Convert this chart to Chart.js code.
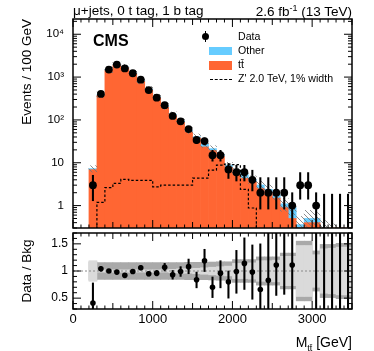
<!DOCTYPE html>
<html>
<head>
<meta charset="utf-8">
<script src="https://cdn.jsdelivr.net/npm/chart.js@4.4.0/dist/chart.umd.min.js"></script>
<style>
  body { margin: 0; background: #fff; font-family: 'Liberation Sans', Arial, sans-serif; }
  #wrap { position: relative; width: 374px; height: 351px; overflow: hidden; }
  canvas { position: absolute; left: 0; }
  #mainChart { top: 0; }
  #ratioChart { top: 228px; }
  .txt { position: absolute; white-space: nowrap; color: #000; line-height: 1; }
  .sym { position: absolute; }
</style>
</head>
<body>
<div id="wrap">
  <canvas id="mainChart" width="374" height="232"></canvas>
  <canvas id="ratioChart" width="374" height="123"></canvas>

  <div class="txt" style="left:73px; top:3.6px; font-size:13.5px;">μ+jets, 0 t tag, 1 b tag</div>
  <div class="txt" style="right:22px; top:3.6px; font-size:13.5px;">2.6 fb<sup style="font-size:9px; vertical-align:5px;">-1</sup> (13 TeV)</div>
  <div class="txt" style="left:93px; top:33px; font-size:16px; font-weight:bold;">CMS</div>

  <div class="sym" style="left:204.5px; top:30.7px; width:1px; height:11px; background:#000;"></div>
  <div class="sym" style="left:201.5px; top:32.8px; width:7px; height:7px; border-radius:50%; background:#000;"></div>
  <div class="txt" style="left:238px; top:31px; font-size:10.6px;">Data</div>
  <div class="sym" style="left:209px; top:46.7px; width:23px; height:8.6px; background:#66ccff;"></div>
  <div class="txt" style="left:238px; top:45px; font-size:10.6px;">Other</div>
  <div class="sym" style="left:209px; top:60.7px; width:23px; height:9.3px; background:#ff6633;"></div>
  <div class="txt" style="left:238px; top:59.3px; font-size:10.6px;">tt̄</div>
  <div class="sym" style="left:210px; top:78.5px; width:22px; height:0; border-top:1.2px dashed #000;"></div>
  <div class="txt" style="left:238px; top:72.7px; font-size:10.6px;">Z' 2.0 TeV, 1% width</div>

  <div class="txt" style="right:22px; top:335px; font-size:14px;">M<sub style="font-size:9px; vertical-align:-4px;">tt̄</sub> [GeV]</div>
</div>

<script>
// bins of 100 GeV
const binEdges = [200, 300, 400, 500, 600, 700, 800, 900, 1000, 1100, 1200, 1300, 1400, 1500, 1600, 1700, 1800,
  1900, 2000, 2100, 2200, 2300, 2400, 2500, 2600, 2700, 2800, 2900, 3000, 3100, 3200, 3300, 3400, 3500];

const dataCounts = [3, 405, 1500, 1960, 1590, 1230, 870, 497, 330, 221, 124, 93, 61, 34, 32, 15, 15,
  7, 6, 6, 4, 2, 2, 2, 2, 1, 3, 3, 1, 0, 0, 0, 0];
const dataErrLo = [1.3, 385, 1461, 1916, 1550, 1195, 840, 475, 312, 206, 113, 83, 53, 28, 26, 10.9, 10.9,
  4.3, 3.75, 3.75, 2.2, 0.83, 0.83, 0.83, 0.83, 0.1, 1.41, 1.41, 0.1, 0.1, 0.1, 0.1, 0.1];
const dataErrHi = [5.1, 425, 1539, 2004, 1630, 1265, 900, 519, 348, 236, 135, 103, 69, 40.5, 38, 19.5, 19.5,
  9.6, 8.7, 8.7, 6.7, 4.5, 4.5, 4.5, 4.5, 2.0, 5.9, 5.9, 2.0, 1.85, 1.85, 1.85, 1.85];

const ttbar = [6.9, 372, 1440, 1920, 1660, 1192, 787, 500, 328, 197, 126, 88, 53, 38, 23.5, 19.4, 14,
  7.8, 5.3, 4.3, 3.5, 2.5, 2.0, 1.5, 0.9, 0.5, 0.2, 0.4, 0.4, 0.2, 0.15, 0.1, 0.1];
const other = [0.4, 17, 60, 80, 68, 50, 33, 23, 16, 10, 7, 6, 3.5, 2.5, 3.4, 2, 1.6,
  0.95, 0.76, 0.96, 0.58, 0.53, 0.41, 0.3, 0.2, 0.4, 0.16, 0.1, 0.1, 0.1, 0.1, 0.1, 0.1];
const zprime = [0, 1.19, 2.64, 3.3, 4.1, 3.9, 3.9, 3.9, 2.75, 3.0, 3.0, 3.0, 3.0, 4.4, 4.4, 6.7, 8.8,
  9.3, 9.0, 2.4, 0.88, 0, 0, 0, 0, 0, 0, 0, 0, 0, 0, 0, 0];

// relative background uncertainty (total, and MC stat part)
const bkgUnc = [0.17, 0.155, 0.155, 0.155, 0.155, 0.155, 0.155, 0.155, 0.155, 0.155, 0.155, 0.155, 0.16, 0.16, 0.16, 0.165, 0.17,
  0.17, 0.21, 0.21, 0.21, 0.26, 0.26, 0.26, 0.33, 0.33, 0.55, 0.55, 0.37, 0.49, 0.49, 0.51, 0.51];
const bkgStatUnc = [0.19, 0.02, 0.02, 0.02, 0.02, 0.02, 0.02, 0.02, 0.02, 0.02, 0.03, 0.04, 0.04, 0.05, 0.06, 0.07, 0.08,
  0.09, 0.14, 0.14, 0.15, 0.19, 0.19, 0.2, 0.27, 0.27, 0.47, 0.47, 0.3, 0.41, 0.42, 0.44, 0.44];

const ratioVals = [0.41, 1.04, 1.0, 0.98, 0.92, 0.99, 1.06, 0.95, 0.96, 1.07, 0.93, 0.99, 1.08, 0.84, 1.19, 0.70, 0.96,
  0.80, 0.99, 1.14, 0.98, 0.66, 0.83, 1.11, null, 1.11, null, null, null, null, null, null, null];
const ratioErrLo = [0, 1.0, 0.97, 0.95, 0.89, 0.96, 1.02, 0.91, 0.91, 1.0, 0.85, 0.9, 0.95, 0.69, 0.99, 0.51, 0.69,
  0.5, 0.59, 0.66, 0.48, 0, 0, 0.55, 0.57, 0, null, null, 0, 0, 0, 0, 0];
const ratioErrHi = [0.78, 1.08, 1.03, 1.01, 0.95, 1.02, 1.1, 0.99, 1.01, 1.14, 1.01, 1.08, 1.22, 0.98, 1.4, 0.89, 1.19,
  1.0, 1.38, 1.61, 1.48, 1.5, 3, 3, 3, 3, null, null, 3, 3, 3, 3, 3];

const yTickValues = [1, 10, 100, 1000, 10000];
const yTickLabels = ['1', '10', '10²', '10³', '10⁴'];
const ratioTickValues = [0.5, 1, 1.5];
const ratioTickLabels = ['0.5', '1', '1.5'];
const xTickValues = [0, 1000, 2000, 3000];
const xTickLabels = ['0', '1000', '2000', '3000'];

Chart.defaults.font.family = "'Liberation Sans', Arial, sans-serif";
Chart.defaults.color = '#000';

const centers = binEdges.slice(0, -1).map((e, i) => (e + binEdges[i + 1]) / 2);
const bkgTotal = ttbar.map((v, i) => v + other[i]);
const logFloor = 1e-3;

// inward ROOT-like ticks and frame
const frameTicks = {
  id: 'frameTicks',
  afterDatasetsDraw(chart, args, opts) {
    const { ctx, chartArea: a, scales: { x, y } } = chart;
    ctx.save();
    ctx.strokeStyle = '#000';
    ctx.lineWidth = 1;
    ctx.beginPath();
    for (let v = 0; v <= 3500; v += 100) {
      const px = x.getPixelForValue(v);
      const len = v % 1000 === 0 ? 8 : (v % 500 === 0 ? 6 : 3.5);
      ctx.moveTo(px, a.bottom); ctx.lineTo(px, a.bottom - len);
      ctx.moveTo(px, a.top); ctx.lineTo(px, a.top + len);
    }
    const yt = [];
    if (opts.mode === 'log') {
      for (let e = -1; e <= 4; e++) {
        for (let m = 1; m <= 9; m++) {
          const v = m * Math.pow(10, e);
          if (v >= y.min && v <= y.max) yt.push([v, m === 1 ? 8 : 4]);
        }
      }
    } else {
      for (let k = 3; k <= 17; k++) yt.push([k / 10, k % 5 === 0 ? 8 : 4]);
    }
    for (const [v, len] of yt) {
      const py = y.getPixelForValue(v);
      ctx.moveTo(a.left, py); ctx.lineTo(a.left + len, py);
      ctx.moveTo(a.right, py); ctx.lineTo(a.right - len, py);
    }
    ctx.stroke();
    ctx.lineWidth = 1.5;
    ctx.strokeRect(a.left, a.top, a.right - a.left, a.bottom - a.top);
    ctx.restore();
  }
};

function makeHatch() {
  const c = document.createElement('canvas');
  c.width = 5; c.height = 5;
  const g = c.getContext('2d');
  g.strokeStyle = 'rgba(120,120,120,0.85)';
  g.lineWidth = 1;
  g.beginPath();
  g.moveTo(0, 0); g.lineTo(5, 5);
  g.moveTo(-1, 4); g.lineTo(1, 6);
  g.moveTo(4, -1); g.lineTo(6, 1);
  g.stroke();
  return g.createPattern(c, 'repeat');
}

// keep the plot area exactly where it is in the reference
function fixYAxis(s) { s.width = 73; s.paddingTop = 0; s.paddingBottom = 0; }
function fixXAxis(s) { s.height = 42; s.paddingLeft = 0; s.paddingRight = 0; }

const histBar = { type: 'bar', grouped: false, barPercentage: 1, categoryPercentage: 1, borderWidth: 0, clip: 0 };

const zprimeSteps = binEdges.slice(0, -1).map((e, i) => ({ x: e, y: zprime[i] > 0 ? zprime[i] : logFloor }));
zprimeSteps.push({ x: binEdges[binEdges.length - 1], y: logFloor });

new Chart(document.getElementById('mainChart').getContext('2d'), {
  type: 'bar',
  data: {
    datasets: [
      {
        type: 'line', label: 'Data', order: 1, showLine: false, clip: 0,
        data: centers.map((x, i) => ({ x, y: dataCounts[i] > 0 ? dataCounts[i] : null })),
        pointRadius: 3.9, pointBackgroundColor: '#000', pointBorderWidth: 0
      },
      {
        ...histBar, label: 'Data err', order: 2, barThickness: 1.4, backgroundColor: '#000',
        data: centers.map((x, i) => ({ x, y: [dataErrLo[i], dataErrHi[i]] }))
      },
      {
        type: 'line', label: "Z' 2.0 TeV, 1% width", order: 3, stepped: true, clip: 0,
        data: zprimeSteps, borderColor: '#000', borderWidth: 1.2, borderDash: [2.5, 2], pointRadius: 0, fill: false
      },
      {
        ...histBar, label: 'Uncertainty', order: 4, backgroundColor: makeHatch(),
        data: centers.map((x, i) => ({ x, y: [bkgTotal[i] * (1 - bkgUnc[i]), bkgTotal[i] * (1 + bkgUnc[i])] }))
      },
      {
        ...histBar, label: 'tt̄', order: 5, backgroundColor: '#ff6633',
        data: centers.map((x, i) => ({ x, y: ttbar[i] }))
      },
      {
        ...histBar, label: 'Other', order: 6, backgroundColor: '#66ccff',
        data: centers.map((x, i) => ({ x, y: [ttbar[i], bkgTotal[i]] }))
      }
    ]
  },
  options: {
    responsive: false,
    animation: false,
    layout: { autoPadding: false, padding: { top: 19, right: 22, bottom: 4, left: 0 } },
    plugins: { legend: { display: false }, tooltip: { enabled: false }, frameTicks: { mode: 'log' } },
    scales: {
      x: { type: 'linear', min: 0, max: 3500, offset: false, display: false },
      y: {
        type: 'logarithmic', min: 0.31, max: 22700,
        grid: { display: false, drawTicks: false }, border: { display: false },
        afterFit: fixYAxis,
        afterBuildTicks: s => { s.ticks = yTickValues.map(v => ({ value: v })); },
        ticks: {
          callback: v => yTickLabels[yTickValues.indexOf(v)],
          padding: 9, font: { size: 11.5 }, color: '#000', autoSkip: false
        },
        title: { display: true, text: 'Events / 100 GeV', align: 'end', color: '#000', font: { size: 13.5 }, padding: { top: 19 } }
      }
    }
  },
  plugins: [frameTicks]
});

new Chart(document.getElementById('ratioChart').getContext('2d'), {
  type: 'bar',
  data: {
    datasets: [
      {
        type: 'line', label: 'Data / Bkg', order: 1, showLine: false, clip: 0,
        data: centers.map((x, i) => ({ x, y: ratioVals[i] })),
        pointRadius: 2.8, pointBackgroundColor: '#000', pointBorderWidth: 0
      },
      {
        ...histBar, label: 'Ratio err', order: 2, barThickness: 1.4, backgroundColor: '#000',
        data: centers.map((x, i) => ({ x, y: ratioErrLo[i] === null ? null : [ratioErrLo[i], ratioErrHi[i]] }))
      },
      {
        type: 'line', label: 'unity', order: 3, clip: 0,
        data: [{ x: 0, y: 1 }, { x: 3500, y: 1 }],
        borderColor: '#8a8a8a', borderWidth: 1, borderDash: [2, 2], pointRadius: 0
      },
      {
        ...histBar, label: 'MC stat', order: 4, backgroundColor: '#dadada',
        data: centers.map((x, i) => ({ x, y: [1 - bkgStatUnc[i], 1 + bkgStatUnc[i]] }))
      },
      {
        ...histBar, label: 'Total unc', order: 5, backgroundColor: '#a9a9a9',
        data: centers.map((x, i) => ({ x, y: [1 - bkgUnc[i], 1 + bkgUnc[i]] }))
      }
    ]
  },
  options: {
    responsive: false,
    animation: false,
    layout: { autoPadding: false, padding: { top: 5, right: 22, bottom: 0, left: 0 } },
    plugins: { legend: { display: false }, tooltip: { enabled: false }, frameTicks: { mode: 'lin' } },
    scales: {
      x: {
        type: 'linear', min: 0, max: 3500, offset: false,
        grid: { display: false, drawTicks: false }, border: { display: false },
        afterFit: fixXAxis,
        afterBuildTicks: s => { s.ticks = xTickValues.map(v => ({ value: v })); },
        ticks: {
          callback: v => xTickLabels[xTickValues.indexOf(v)],
          padding: 3, font: { size: 13 }, color: '#000', maxRotation: 0, autoSkip: false
        }
      },
      y: {
        type: 'linear', min: 0.3, max: 1.7,
        grid: { display: false, drawTicks: false }, border: { display: false },
        afterFit: fixYAxis,
        afterBuildTicks: s => { s.ticks = ratioTickValues.map(v => ({ value: v })); },
        ticks: {
          callback: v => ratioTickLabels[ratioTickValues.indexOf(v)],
          padding: 5, font: { size: 12 }, color: '#000', autoSkip: false
        },
        title: { display: true, text: 'Data / Bkg', align: 'center', color: '#000', font: { size: 13.5 }, padding: { top: 19 } }
      }
    }
  },
  plugins: [frameTicks]
});
</script>
</body>
</html>
